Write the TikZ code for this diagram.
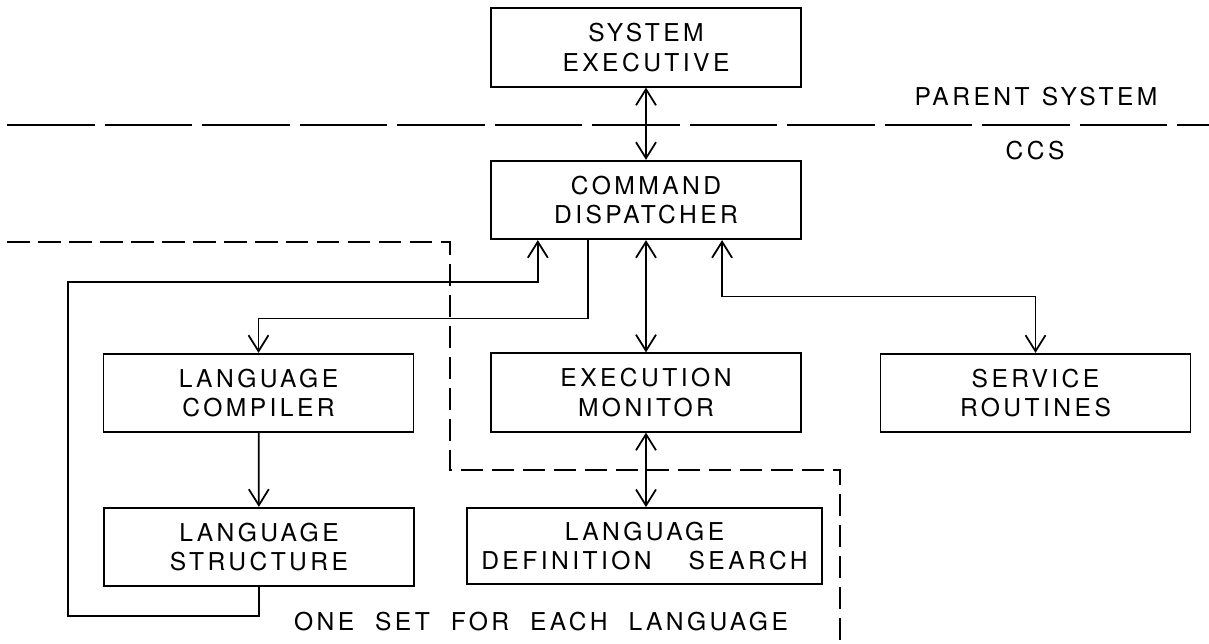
\documentclass[tikz,border=0pt]{standalone}
\usepackage{fontspec}
\usetikzlibrary{arrows.meta,calc}
\newfontfamily\lettering{TeX Gyre Heros}[LetterSpace=14]

\begin{document}
\begin{tikzpicture}[
    block/.style={draw, line width=1pt, minimum width=6.2cm, minimum height=1.57cm, align=center, font=\lettering\fontsize{14}{17}\selectfont},
    tag/.style={align=center, font=\lettering\fontsize{14}{17}\selectfont},
    link/.style={line width=1pt, -{Straight Barb[length=3.2mm,width=4mm]}},
    both/.style={line width=1pt, {Straight Barb[length=3.2mm,width=4mm]}-{Straight Barb[length=3.2mm,width=4mm]}},
    border/.style={line width=0.8pt, dash pattern=on 0.45cm off 0.17cm},
    divide/.style={line width=0.9pt, dash pattern=on 1.75cm off 0.2cm}
  ]
    \useasboundingbox[fill=white] (0,0) rectangle (24.18,12.88);

    \node[block] (exec) at (12.92,11.93) {SYSTEM\\EXECUTIVE};
    \node[block] (disp) at (12.92,8.88) {COMMAND\\DISPATCHER};
    \node[block] (comp) at (5.17,5.02) {LANGUAGE\\COMPILER};
    \node[block] (mon) at (12.92,5.03) {EXECUTION\\MONITOR};
    \node[block] (serv) at (20.71,5.02) {SERVICE\\ROUTINES};
    \node[block] (struct) at (5.18,1.94) {LANGUAGE\\STRUCTURE};
    \node[block, minimum width=7.1cm, minimum height=1.52cm] (search) at (12.89,1.96) {LANGUAGE\\DEFINITION\hspace{1.5em}SEARCH};

    \node[tag] (parent) at (20.72,10.94) {PARENT\hspace{0.5em}SYSTEM};
    \node[tag] (ccs) at (20.7,9.86) {CCS};
    \node[tag] (oneset) at (10.82,0.44) {ONE\hspace{0.85em}SET\hspace{0.85em}FOR\hspace{0.85em}EACH\hspace{0.85em}LANGUAGE};

    \draw[divide] (0.14,10.38) -- (24.18,10.38);
    \draw[border] (0.14,8.04) -- (9.0,8.04) -- (9.0,3.48) -- (16.8,3.48) -- (16.8,0);

    \draw[both] (exec) -- (disp);
    \draw[both] (disp) -- (mon);
    \draw[both] (mon.south) -- (mon.south |- search.north);
    \draw[link] ($(disp.south west)!0.315!(disp.south east)$) -- ++(0,-1.57) -| (comp.north);
    \draw[both] ($(disp.south west)!0.744!(disp.south east)$) -- ++(0,-1.13) -| (serv.north);
    \draw[link] (comp) -- (struct);
    \draw[link] (struct.south) -- ++(0,-0.58) -| (1.36,7.24) -| ($(disp.south west)!0.153!(disp.south east)$);
  \end{tikzpicture}
\end{document}
